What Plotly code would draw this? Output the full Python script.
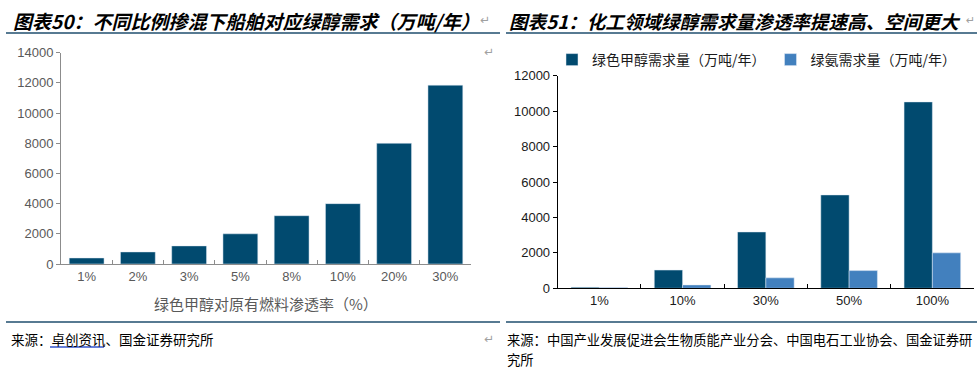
import plotly.graph_objects as go

# ---- data ----
left_categories = ["1%", "2%", "3%", "5%", "8%", "10%", "20%", "30%"]
left_values = [400, 800, 1200, 2000, 3200, 4000, 8000, 11850]

right_categories = ["1%", "10%", "30%", "50%", "100%"]
methanol_values = [60, 1030, 3180, 5270, 10520]
ammonia_values = [40, 190, 590, 1000, 2000]

left_title = "图表50：不同比例掺混下船舶对应绿醇需求（万吨/年）"
right_title = "图表51：化工领域绿醇需求量渗透率提速高、空间更大"
left_xtitle = "绿色甲醇对原有燃料渗透率（%）"
methanol_name = "绿色甲醇需求量（万吨/年）"
ammonia_name = "绿氨需求量（万吨/年）"

DARK = "#014A6F"
LIGHT = "#4280BE"
CJK = "Noto Sans CJK SC"
LAT = "Liberation Sans, Arial"

W, H = 977, 368

def px(x):
    return x / W

def py(y):
    return (H - y) / H

fig = go.Figure()

fig.add_trace(go.Bar(x=left_categories, y=left_values, marker_color=DARK,
                     xaxis="x", yaxis="y", showlegend=False))
fig.add_trace(go.Bar(x=right_categories, y=methanol_values, marker_color=DARK,
                     name=methanol_name, xaxis="x2", yaxis="y2"))
fig.add_trace(go.Bar(x=right_categories, y=ammonia_values, marker_color=LIGHT,
                     name=ammonia_name, xaxis="x2", yaxis="y2"))

grey = "#8c8c8c"
fig.update_layout(
    width=W, height=H,
    margin=dict(l=0, r=0, t=0, b=0, autoexpand=False),
    paper_bgcolor="white", plot_bgcolor="white",
    barmode="group", bargap=0.32, bargroupgap=0,
    font=dict(family=LAT, size=13, color="#595959"),
    xaxis=dict(domain=[px(61), px(471)], anchor="y", automargin=False,
               showline=True, linecolor=grey, linewidth=1,
               ticks="inside", ticklen=4, tickcolor=grey, tickson="boundaries",
               tickfont=dict(family=LAT, size=13, color="#595959"),
               showgrid=False, zeroline=False),
    yaxis=dict(domain=[py(264), py(52.7)], anchor="x", range=[0, 14000], automargin=False,
               dtick=2000, showline=True, linecolor=grey, linewidth=1,
               ticks="outside", ticklen=4, tickcolor=grey,
               tickfont=dict(family=LAT, size=13, color="#595959"),
               showgrid=False, zeroline=False, tickformat="d"),
    xaxis2=dict(domain=[px(557.7), px(974)], anchor="y2", automargin=False,
                showline=True, linecolor="#000000", linewidth=1,
                ticks="inside", ticklen=4, tickcolor="#000000", tickson="boundaries",
                tickfont=dict(family=LAT, size=13, color="#1a1a1a"),
                showgrid=False, zeroline=False),
    yaxis2=dict(domain=[py(288.3), py(75.7)], anchor="x2", range=[0, 12000], automargin=False,
                dtick=2000, showline=True, linecolor="#000000", linewidth=1,
                ticks="outside", ticklen=4, tickcolor="#000000",
                tickfont=dict(family=LAT, size=13, color="#1a1a1a"),
                showgrid=False, zeroline=False, tickformat="d"),
    legend=dict(orientation="h", x=px(552), y=py(60), xanchor="left", yanchor="middle",
                font=dict(family=CJK, size=14, color="#1a1a1a"),
                itemwidth=30, tracegroupgap=0, bgcolor="rgba(0,0,0,0)",
                traceorder="normal"),
)

annotations = [
    dict(text="<b>" + left_title + "</b>", x=px(11), y=py(20), xanchor="left",
         yanchor="middle", font=dict(family=CJK, size=19, color="#000000", style="italic")),
    dict(text="<b>" + right_title + "</b>", x=px(507), y=py(20), xanchor="left",
         yanchor="middle", font=dict(family=CJK, size=18.6, color="#000000", style="italic")),
    dict(text=left_xtitle, x=(px(61) + px(471)) / 2, y=py(303), xanchor="center",
         yanchor="middle", font=dict(family=CJK, size=15, color="#595959")),
    dict(text="来源：卓创资讯、国金证券研究所", x=px(9), y=py(339), xanchor="left",
         yanchor="middle", font=dict(family=CJK, size=13.5, color="#000000")),
    dict(text="来源：中国产业发展促进会生物质能产业分会、中国电石工业协会、国金证券研",
         x=px(505), y=py(339), xanchor="left", yanchor="middle",
         font=dict(family=CJK, size=13.3, color="#000000")),
    dict(text="究所", x=px(505), y=py(359), xanchor="left", yanchor="middle",
         font=dict(family=CJK, size=13.3, color="#000000")),
    dict(text="↵", x=px(478), y=py(20), xanchor="left", yanchor="middle",
         font=dict(family="DejaVu Sans", size=12, color="#a0a0a0")),
    dict(text="↵", x=px(977), y=py(21), xanchor="right", yanchor="middle",
         font=dict(family="DejaVu Sans", size=11, color="#a0a0a0")),
    dict(text="↵", x=px(482), y=py(52), xanchor="left", yanchor="middle",
         font=dict(family="DejaVu Sans", size=12, color="#a0a0a0")),
    dict(text="↵", x=px(482), y=py(339), xanchor="left", yanchor="middle",
         font=dict(family="DejaVu Sans", size=12, color="#a0a0a0")),
]
for a in annotations:
    a.update(xref="paper", yref="paper", showarrow=False)
fig.update_layout(annotations=annotations)

rule = "#1F4E6E"
shapes = [
    dict(type="line", x0=px(6), x1=px(500), y0=py(33), y1=py(33), line=dict(color=rule, width=1.5)),
    dict(type="line", x0=px(506), x1=px(977), y0=py(33), y1=py(33), line=dict(color=rule, width=1.5)),
    dict(type="line", x0=px(6), x1=px(500), y0=py(322), y1=py(322), line=dict(color=rule, width=1.5)),
    dict(type="line", x0=px(506), x1=px(977), y0=py(322), y1=py(322), line=dict(color=rule, width=1.5)),
    dict(type="line", x0=px(50), x1=px(104), y0=py(347), y1=py(347), line=dict(color="#3355cc", width=1.5)),
]
for s in shapes:
    s.update(xref="paper", yref="paper")
fig.update_layout(shapes=shapes)

fig.write_html("out.html", config={"displayModeBar": False},
               post_script="document.body.style.margin='0';document.body.style.overflow='hidden';")
